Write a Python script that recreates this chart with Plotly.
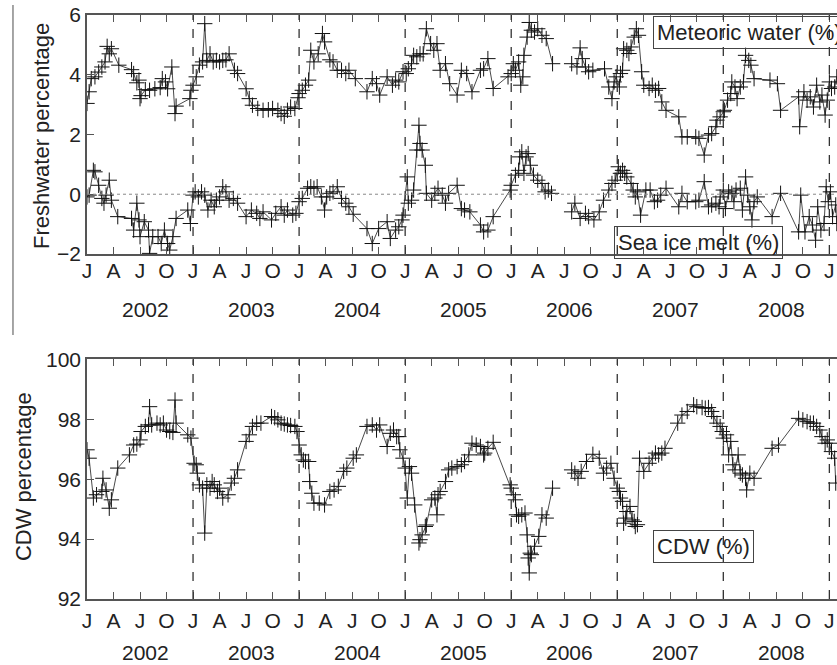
import plotly.graph_objects as go

# ---- Time axis: decimal years ----
YEARS = [2002, 2003, 2004, 2005, 2006, 2007, 2008]
MONTH_LETTERS = ["J", "A", "J", "O"]

# ---- Meteoric water (%) ----
met_year = [
    2002.00, 2002.02, 2002.04, 2002.075, 2002.11, 2002.14, 2002.17, 2002.19, 2002.21, 2002.23,
    2002.30, 2002.42, 2002.44, 2002.47, 2002.49, 2002.50, 2002.51, 2002.55, 2002.59, 2002.64,
    2002.69, 2002.71, 2002.74, 2002.76, 2002.80, 2002.83, 2002.84, 2002.97, 2002.98, 2003.00,
    2003.03, 2003.06, 2003.09, 2003.11, 2003.13, 2003.16, 2003.19, 2003.22, 2003.25, 2003.28,
    2003.31, 2003.34, 2003.39, 2003.42, 2003.50, 2003.53, 2003.56, 2003.61, 2003.66, 2003.71,
    2003.75, 2003.80, 2003.83, 2003.86, 2003.89, 2003.92, 2003.96, 2003.99, 2004.00, 2004.03,
    2004.06, 2004.09, 2004.11, 2004.14, 2004.18, 2004.22, 2004.24, 2004.29, 2004.32, 2004.36,
    2004.40, 2004.44, 2004.47, 2004.53, 2004.64, 2004.69, 2004.73, 2004.76, 2004.83, 2004.88,
    2004.91, 2004.94, 2004.98, 2005.01, 2005.03, 2005.06, 2005.08, 2005.11, 2005.14, 2005.17,
    2005.20, 2005.24, 2005.27, 2005.30, 2005.33, 2005.38, 2005.42, 2005.49, 2005.53, 2005.58,
    2005.63, 2005.71, 2005.74, 2005.78, 2005.83, 2005.97, 2006.00, 2006.02, 2006.04, 2006.07,
    2006.09, 2006.11, 2006.12, 2006.15, 2006.17, 2006.19, 2006.22, 2006.25, 2006.29, 2006.33,
    2006.39, None,
    2006.57, 2006.62, 2006.65, 2006.67, 2006.70, 2006.73, 2006.77, 2006.88, 2006.92, 2006.95,
    2006.97, 2006.99, 2007.02, 2007.03, 2007.05, 2007.06, 2007.09, 2007.11, 2007.13, 2007.16,
    2007.18, 2007.20, 2007.23, 2007.25, 2007.30, 2007.33, 2007.36, 2007.39, 2007.42, 2007.46,
    2007.58, 2007.61, 2007.66, 2007.74, 2007.77, 2007.82, 2007.86, 2007.89, 2007.93, 2007.94,
    2007.97, 2008.00, 2008.01, 2008.04, 2008.07, 2008.08, 2008.11, 2008.13, 2008.16, 2008.19,
    2008.21, 2008.24, 2008.26, 2008.29, 2008.44, 2008.51, 2008.54, 2008.71, 2008.72, 2008.76,
    2008.79, 2008.82, 2008.85, 2008.88, 2008.91, 2008.93, 2008.96, 2008.98, 2009.00, 2009.02,
    2009.05, 2009.07,
]
met_pct = [
    3.04, 3.43, 3.87, 3.93, 4.09, 4.26, 4.43, 4.95, 4.70, 4.87,
    4.32, 4.17, 4.04, 3.73, 3.82, 3.20, 3.30, 3.50, 3.48, 3.53,
    3.57, 3.87, 3.76, 3.53, 4.26, 2.70, 2.95, 3.20, 3.48, 3.65,
    3.93, 4.32, 4.43, 5.71, 4.48, 4.70, 4.43, 4.48, 4.43, 4.48,
    4.50, 4.70, 4.15, 4.04, 3.53, 3.20, 2.98, 2.87, 2.81, 2.83,
    2.87, 2.81, 2.70, 2.61, 2.81, 2.92, 2.87, 3.23, 3.37, 3.48,
    3.65, 3.82, 4.82, 4.43, 4.70, 5.38, 5.10, 4.50, 4.43, 4.15,
    4.15, 4.04, 4.15, 3.87, 3.43, 3.87, 3.70, 3.32, 3.93, 3.65,
    3.82, 3.76, 4.10, 4.04, 4.20, 4.37, 4.65, 4.60, 4.70, 4.70,
    5.54, 5.04, 4.82, 5.04, 4.15, 4.37, 3.70, 3.32, 4.15, 4.04,
    3.43, 4.15, 4.20, 4.54, 3.54, 3.93, 4.04, 4.37, 4.15, 4.43,
    3.65, 3.93, 4.65, 5.26, 5.75, 5.49, 5.43, 5.54, 5.32, 5.21,
    4.37, None,
    4.37, 4.26, 4.90, 4.54, 4.26, 4.10, 4.15, 4.20, 3.59, 3.20,
    3.76, 3.93, 3.59, 4.04, 4.15, 4.87, 4.82, 4.71, 4.93, 5.26,
    5.54, 5.32, 4.10, 3.65, 3.54, 3.65, 3.48, 3.54, 3.09, 2.81,
    2.59, 1.92, 1.92, 1.92, 1.87, 1.31, 1.98, 2.03, 2.26, 2.48,
    2.59, 2.76, 2.81, 3.15, 3.37, 3.76, 3.59, 3.20, 3.59, 3.76,
    4.65, 4.48, 4.32, 3.87, 3.82, 3.70, 2.81, 3.26, 2.26, 3.43,
    3.15, 3.26, 2.92, 3.65, 3.09, 3.32, 2.65, 3.15, 3.76, 3.54,
    3.59, 3.93,
]

# ---- Sea ice melt (%) ----
sim_year = [
    2002.00, 2002.02, 2002.06, 2002.075, 2002.11, 2002.14, 2002.16, 2002.18, 2002.21, 2002.23,
    2002.29, 2002.42, 2002.44, 2002.47, 2002.49, 2002.50, 2002.54, 2002.58, 2002.59, 2002.62,
    2002.67, 2002.70, 2002.73, 2002.76, 2002.78, 2002.81, 2002.84, 2002.95, 2002.975, 2003.00,
    2003.02, 2003.05, 2003.08, 2003.11, 2003.14, 2003.17, 2003.20, 2003.22, 2003.25, 2003.28,
    2003.31, 2003.34, 2003.38, 2003.42, 2003.50, 2003.55, 2003.60, 2003.63, 2003.66, 2003.74,
    2003.78, 2003.83, 2003.86, 2003.89, 2003.94, 2003.97, 2004.00, 2004.03, 2004.08, 2004.11,
    2004.14, 2004.17, 2004.21, 2004.24, 2004.26, 2004.29, 2004.32, 2004.36, 2004.40, 2004.44,
    2004.47, 2004.51, 2004.64, 2004.69, 2004.75, 2004.83, 2004.86, 2004.91, 2004.94, 2004.97,
    2004.98, 2005.02, 2005.03, 2005.06, 2005.08, 2005.11, 2005.13, 2005.14, 2005.16, 2005.19,
    2005.20, 2005.25, 2005.28, 2005.31, 2005.35, 2005.38, 2005.41, 2005.49, 2005.53, 2005.56,
    2005.61, 2005.71, 2005.74, 2005.78, 2005.83, 2005.99, 2006.00, 2006.04, 2006.07, 2006.08,
    2006.10, 2006.12, 2006.14, 2006.16, 2006.18, 2006.21, 2006.25, 2006.29, 2006.32, 2006.35,
    2006.38, None,
    2006.57, 2006.60, 2006.65, 2006.70, 2006.73, 2006.78, 2006.83, 2006.87, 2006.92, 2006.95,
    2006.98, 2007.01, 2007.03, 2007.05, 2007.07, 2007.09, 2007.13, 2007.15, 2007.17, 2007.19,
    2007.22, 2007.27, 2007.31, 2007.35, 2007.38, 2007.41, 2007.46, 2007.58, 2007.61, 2007.66,
    2007.74, 2007.77, 2007.82, 2007.86, 2007.89, 2007.93, 2007.96, 2007.97, 2008.00, 2008.02,
    2008.05, 2008.08, 2008.10, 2008.12, 2008.16, 2008.18, 2008.21, 2008.23, 2008.25, 2008.27,
    2008.29, 2008.32, 2008.46, 2008.54, 2008.71, 2008.73, 2008.77, 2008.81, 2008.84, 2008.87,
    2008.89, 2008.92, 2008.95, 2008.97, 2008.99, 2009.01, 2009.03, 2009.06, 2009.07,
]
sim_pct = [
    -0.09, -0.03, 0.80, 0.75, 0.30, -0.14, -0.30, -0.03, 0.47, -0.20,
    -0.75, -0.81, -1.20, -0.30, -0.86, -1.42, -0.92, -1.20, -1.98, -1.42,
    -1.42, -1.65, -1.20, -1.65, -1.87, -1.42, -0.81, -0.53, -0.98, -0.03,
    0.08, -0.09, 0.08, -0.03, -0.53, -0.20, -0.42, -0.20, -0.09, 0.25,
    0.08, -0.20, -0.14, -0.30, -0.75, -0.53, -0.64, -0.81, -0.59, -0.86,
    -0.64, -0.42, -0.70, -0.53, -0.70, -0.64, -0.25, -0.14, 0.20, 0.25,
    0.20, 0.25, -0.09, -0.53, -0.09, 0.03, 0.08, 0.25, -0.14, -0.30,
    -0.42, -0.67, -1.15, -1.65, -1.15, -0.92, -1.48, -1.20, -1.09, -0.86,
    -0.70, 0.58, -0.30, -0.20, 0.14, 1.48, 2.31, 1.70, 1.48, 0.97,
    0.03, -0.20, 0.03, 0.20, -0.03, -0.30, 0.03, 0.30, -0.48, -0.53,
    -0.59, -1.03, -1.26, -1.20, -0.75, 0.14, 0.30, 0.64, 0.80, 1.25,
    1.42, 0.70, 1.25, 1.36, 0.97, 0.64, 0.47, 0.36, 0.08, 0.14,
    0.03, None,
    -0.59, -0.30, -0.81, -0.64, -0.75, -0.86, -0.59, -0.20, 0.14, 0.36,
    0.47, 0.92, 0.70, 0.80, 0.70, 0.58, 0.36, 0.14, -0.09, 0.08,
    -0.70, 0.14, 0.14, -0.25, -0.20, -0.03, 0.20, -0.42, 0.03, -0.25,
    -0.25, -0.20, 0.42, -0.42, -0.36, -0.30, -0.42, -0.09, 0.14, -0.48,
    0.08, 0.03, -0.25, 0.14, 0.20, -0.53, 0.58, -0.03, -0.42, -0.86,
    -0.25, -0.09, -0.75, 0.03, -1.26, -0.03, -1.26, -0.75, -1.03, -1.54,
    -0.42, -1.20, -0.98, 0.25, -0.25, 0.08, -0.75, -0.36, -0.98,
]

# ---- Circumpolar Deep Water (%) ----
cdw_year = [
    2002.00, 2002.02, 2002.06, 2002.09, 2002.14, 2002.15, 2002.18, 2002.21, 2002.23, 2002.29,
    2002.40, 2002.44, 2002.47, 2002.50, 2002.51, 2002.55, 2002.58, 2002.59, 2002.61, 2002.66,
    2002.69, 2002.72, 2002.75, 2002.78, 2002.81, 2002.83, 2002.84, 2002.95, 2002.98, 2003.01,
    2003.03, 2003.04, 2003.06, 2003.09, 2003.11, 2003.13, 2003.16, 2003.18, 2003.20, 2003.23,
    2003.25, 2003.28, 2003.33, 2003.36, 2003.39, 2003.42, 2003.50, 2003.53, 2003.56, 2003.60,
    2003.64, 2003.74, 2003.77, 2003.80, 2003.83, 2003.86, 2003.89, 2003.92, 2003.96, 2003.98,
    2004.00, 2004.02, 2004.04, 2004.06, 2004.09, 2004.10, 2004.12, 2004.14, 2004.19, 2004.24,
    2004.29, 2004.33, 2004.37, 2004.42, 2004.45, 2004.51, 2004.54, 2004.64, 2004.69, 2004.73,
    2004.76, 2004.83, 2004.86, 2004.89, 2004.92, 2004.94, 2004.95, 2004.98, 2005.00, 2005.02,
    2005.04, 2005.06, 2005.09, 2005.13, 2005.14, 2005.16, 2005.19, 2005.20, 2005.25, 2005.28,
    2005.30, 2005.31, 2005.33, 2005.38, 2005.41, 2005.44, 2005.49, 2005.53, 2005.56, 2005.60,
    2005.63, 2005.67, 2005.71, 2005.74, 2005.75, 2005.78, 2005.83, 2005.99, 2006.00, 2006.02,
    2006.04, 2006.05, 2006.07, 2006.10, 2006.13, 2006.15, 2006.16, 2006.17, 2006.18, 2006.19,
    2006.22, 2006.26, 2006.29, 2006.33, 2006.39, None,
    2006.57, 2006.60, 2006.63, 2006.66, 2006.71, 2006.77, 2006.83, 2006.87, 2006.90, 2006.94,
    2006.97, 2007.00, 2007.02, 2007.03, 2007.05, 2007.06, 2007.08, 2007.09, 2007.12, 2007.14,
    2007.16, 2007.17, 2007.19, 2007.21, 2007.25, 2007.30, 2007.33, 2007.36, 2007.39, 2007.42,
    2007.45, 2007.57, 2007.61, 2007.66, 2007.72, 2007.75, 2007.80, 2007.83, 2007.86, 2007.89,
    2007.91, 2007.94, 2007.97, 2007.99, 2008.00, 2008.03, 2008.05, 2008.07, 2008.09, 2008.11,
    2008.14, 2008.16, 2008.18, 2008.21, 2008.22, 2008.25, 2008.29, 2008.46, 2008.52, 2008.71,
    2008.75, 2008.79, 2008.82, 2008.85, 2008.88, 2008.91, 2008.93, 2008.96, 2008.98, 2009.00,
    2009.02, 2009.05, 2009.06,
]
cdw_pct = [
    96.98, 96.70, 95.37, 95.48, 95.59, 96.03, 95.64, 95.03, 95.31, 96.37,
    96.81, 97.14, 97.17, 97.31, 97.59, 97.76, 97.81, 98.42, 97.81, 97.87,
    97.81, 97.87, 97.64, 97.59, 97.56, 98.64, 97.87, 97.48, 97.37, 96.53,
    96.48, 96.20, 95.81, 95.70, 94.20, 95.81, 95.70, 95.92, 95.81, 95.59,
    95.70, 95.37, 95.48, 95.87, 96.03, 96.31, 97.26, 97.48, 97.76, 97.87,
    97.87, 98.09, 98.05, 97.98, 97.87, 97.84, 97.81, 97.79, 97.76, 97.59,
    97.14, 96.81, 96.64, 96.59, 96.59, 95.92, 95.53, 95.20, 95.20, 95.14,
    95.59, 95.64, 95.76, 96.26, 96.37, 96.70, 96.81, 97.76, 97.81, 97.64,
    97.81, 97.09, 97.53, 97.64, 97.42, 97.42, 96.98, 96.70, 96.37, 95.37,
    96.42, 96.20, 95.14, 93.87, 93.98, 94.14, 94.42, 94.47, 95.31, 95.37,
    94.81, 95.48, 95.59, 95.92, 96.31, 96.37, 96.42, 96.48, 96.59, 96.81,
    97.20, 97.14, 97.09, 96.81, 96.87, 97.03, 97.23, 95.81, 95.70, 95.48,
    95.31, 94.81, 94.76, 94.81, 94.87, 94.14, 93.37, 92.87, 93.53, 93.48,
    93.76, 94.09, 94.81, 94.70, 95.70, None,
    96.31, 96.20, 96.03, 96.26, 96.59, 96.83, 96.70, 96.20, 96.37, 96.53,
    96.03, 95.70, 95.59, 95.37, 95.26, 94.53, 94.70, 94.92, 95.09, 94.64,
    94.59, 94.42, 94.48, 96.70, 96.26, 96.53, 96.70, 96.87, 96.81, 96.87,
    97.03, 97.87, 98.14, 98.26, 98.48, 98.42, 98.39, 98.37, 98.39, 98.26,
    98.09, 97.87, 97.76, 97.59, 97.37, 97.48, 96.81, 97.26, 96.48, 96.31,
    96.81, 96.20, 96.14, 96.03, 95.64, 96.20, 96.03, 97.03, 97.14, 98.03,
    97.98, 97.92, 97.87, 97.87, 97.76, 97.64, 97.42, 97.20, 97.31, 97.20,
    96.92, 96.70, 95.87,
]

FONT = "Liberation Sans, Arial, Helvetica, sans-serif"
INK = "#222222"
FRAME = "#555555"
X_RANGE = [2002.0, 2009.072]

tick_vals = [y + q / 4 for y in range(2002, 2010) for q in range(4)]
tick_vals = [t for t in tick_vals if t <= X_RANGE[1]]
tick_text = [MONTH_LETTERS[i % 4] for i in range(len(tick_vals))]


def series(x, y, xa, ya):
    return go.Scatter(
        x=x, y=y, xaxis=xa, yaxis=ya, mode="lines+markers",
        connectgaps=False, showlegend=False,
        line=dict(color="#4a4a4a", width=1),
        marker=dict(symbol="cross-thin", size=11,
                    line=dict(color="#111111", width=1)),
    )


fig = go.Figure()
fig.add_trace(series(met_year, met_pct, "x", "y"))
fig.add_trace(series(sim_year, sim_pct, "x", "y"))
fig.add_trace(series(cdw_year, cdw_pct, "x2", "y2"))

xaxis_common = dict(
    range=X_RANGE, tickmode="array", tickvals=tick_vals, ticktext=tick_text,
    ticks="inside", ticklen=7, tickwidth=1.2, tickcolor=FRAME,
    showline=True, linecolor=FRAME, linewidth=1.5, mirror="allticks",
    showgrid=False, zeroline=False,
    tickfont=dict(family=FONT, size=21, color=INK),
)
yaxis_common = dict(
    ticks="inside", ticklen=7, tickwidth=1.2, tickcolor=FRAME,
    showline=True, linecolor=FRAME, linewidth=1.5,
    showgrid=False, zeroline=False,
    tickfont=dict(family=FONT, size=21, color=INK),
)

fig.update_layout(
    width=837, height=665,
    margin=dict(l=87, r=0, t=15, b=66),
    paper_bgcolor="white", plot_bgcolor="white",
    xaxis=dict(domain=[0, 1], anchor="y", ticklabelstandoff=-3, **xaxis_common),
    yaxis=dict(domain=[0.5908, 1], anchor="x", range=[-2, 6],
               tickvals=[-2, 0, 2, 4, 6], **yaxis_common),
    xaxis2=dict(domain=[0, 1], anchor="y2", ticklabelstandoff=2, **xaxis_common),
    yaxis2=dict(domain=[0, 0.4104], anchor="x2", range=[92, 100],
                tickvals=[92, 94, 96, 98, 100], **yaxis_common),
)

shapes = []
# Year boundaries (dashed)
for yr in range(2003, 2010):
    for xa, ya in (("x", "y"), ("x2", "y2")):
        shapes.append(dict(type="line", xref=xa, yref=f"{ya} domain",
                           x0=yr, x1=yr, y0=0, y1=1,
                           line=dict(color="#333333", width=1.3, dash="dash")))
# Zero reference in the freshwater panel
shapes.append(dict(type="line", xref="x domain", yref="y", x0=0, x1=1, y0=0, y1=0,
                   line=dict(color="#888888", width=1, dash="dot")))
# Column rule at the far left
shapes.append(dict(type="line", xref="paper", yref="paper",
                   x0=-0.0987, x1=-0.0987, y0=0.452, y1=1.017,
                   line=dict(color="#888888", width=1.5)))
fig.update_layout(shapes=shapes)

annotations = []
# Year labels under each axis
for yr in YEARS:
    for xa, ypos in (("x", 0.4949), ("x2", -0.0908)):
        annotations.append(dict(text=str(yr), xref=xa, yref="paper", x=yr + 0.5, y=ypos,
                                xshift=5, showarrow=False, xanchor="center", yanchor="middle",
                                font=dict(family=FONT, size=21, color=INK)))
# Axis titles
annotations.append(dict(text="Freshwater percentage", xref="paper", yref="paper",
                        x=-0.0613, y=0.7928, textangle=-90, showarrow=False,
                        xanchor="center", yanchor="middle",
                        font=dict(family=FONT, size=22, color=INK)))
annotations.append(dict(text="CDW percentage", xref="paper", yref="paper",
                        x=-0.0853, y=0.2089, textangle=-90, showarrow=False,
                        xanchor="center", yanchor="middle",
                        font=dict(family=FONT, size=22, color=INK)))
# Series labels in boxes
for label, bx, by in (("Meteoric water (%)", 0.7547, 0.998),
                      ("Sea ice melt (%)", 0.7027, 0.6387),
                      ("CDW (%)", 0.7547, 0.1182)):
    annotations.append(dict(text=label, xref="paper", yref="paper", x=bx, y=by,
                            xanchor="left", yanchor="top", showarrow=False,
                            bordercolor="#444444", borderwidth=1, borderpad=3,
                            bgcolor="rgba(0,0,0,0)",
                            font=dict(family=FONT, size=22, color=INK)))
fig.update_layout(annotations=annotations)

fig.write_html("out.html")
